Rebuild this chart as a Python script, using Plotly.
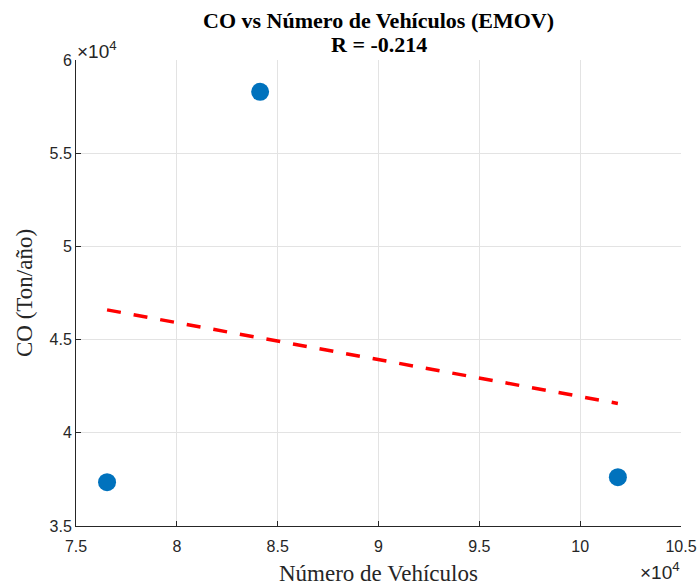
import numpy as np
import plotly.graph_objects as go

# Data
vehiculos = [76540, 84130, 101870]
co_ton = [37350, 58290, 37620]

x_tick_vals = [75000, 80000, 85000, 90000, 95000, 100000, 105000]
x_tick_text = ["7.5", "8", "8.5", "9", "9.5", "10", "10.5"]
y_tick_vals = [35000, 40000, 45000, 50000, 55000, 60000]
y_tick_text = ["3.5", "4", "4.5", "5", "5.5", "6"]

title_lines = ["CO vs Número de Vehículos (EMOV)", "R = -0.214"]
x_label = "Número de Vehículos"
y_label = "CO (Ton/año)"

# linear fit
xa = np.array(vehiculos, dtype=float)
ya = np.array(co_ton, dtype=float)
slope, intercept = np.polyfit(xa, ya, 1)
fit_x = [xa.min(), xa.max()]
fit_y = [slope * v + intercept for v in fit_x]

W, H = 700, 587
L, R, T, B = 76, 19, 60, 61
axis_col = "#262626"
grid_col = "#e3e3e3"


def py(pix):
    """paper y from pixel row"""
    return 1 - (pix - T) / (H - T - B)


def px(pix):
    return (pix - L) / (W - L - R)


fig = go.Figure()
fig.add_trace(go.Scatter(
    x=vehiculos, y=co_ton, mode="markers",
    marker=dict(color="#0072BD", size=18, line=dict(width=0)),
    showlegend=False, cliponaxis=False,
))
fig.add_trace(go.Scatter(
    x=fit_x, y=fit_y, mode="lines",
    line=dict(color="#FF0000", width=3.5, dash="14px,13px"),
    showlegend=False,
))

tfont = dict(family="Liberation Serif", size=22, color="black")
fig.update_layout(
    width=W, height=H,
    margin=dict(l=L, r=R, t=T, b=B, autoexpand=False),
    paper_bgcolor="white", plot_bgcolor="white",
    xaxis=dict(
        range=[75000, 105000], automargin=False,
        tickvals=x_tick_vals, ticktext=x_tick_text,
        showgrid=True, gridcolor=grid_col, gridwidth=1,
        showline=True, linecolor=axis_col, linewidth=1,
        ticks="inside", ticklen=5, tickcolor=axis_col,
        ticklabelstandoff=6,
        zeroline=False,
        tickfont=dict(family="Liberation Sans", size=16, color=axis_col),
        mirror=False,
    ),
    yaxis=dict(
        range=[35000, 60000], automargin=False,
        tickvals=y_tick_vals, ticktext=y_tick_text,
        showgrid=True, gridcolor=grid_col, gridwidth=1,
        showline=True, linecolor=axis_col, linewidth=1,
        ticks="inside", ticklen=5, tickcolor=axis_col,
        zeroline=False,
        tickfont=dict(family="Liberation Sans", size=16, color=axis_col),
        mirror=False,
    ),
    annotations=[
        dict(text="<b>" + title_lines[0] + "</b>", xref="paper", yref="paper",
             x=0.5, y=py(20), xanchor="center", yanchor="middle",
             showarrow=False, font=tfont),
        dict(text="<b>" + title_lines[1] + "</b>", xref="paper", yref="paper",
             x=0.5, y=py(45), xanchor="center", yanchor="middle",
             showarrow=False, font=tfont),
        dict(text=x_label, xref="paper", yref="paper",
             x=0.5, y=py(573), xanchor="center", yanchor="middle",
             showarrow=False,
             font=dict(family="Liberation Serif", size=23, color=axis_col)),
        dict(text=y_label, xref="paper", yref="paper",
             x=px(24), y=0.5, xanchor="center", yanchor="middle",
             textangle=-90, showarrow=False,
             font=dict(family="Liberation Serif", size=23, color=axis_col)),
        dict(text="×10<sup>4</sup>", xref="paper", yref="paper",
             x=px(75), y=py(50), xanchor="left", yanchor="middle",
             showarrow=False,
             font=dict(family="Liberation Sans", size=19, color=axis_col)),
        dict(text="×10<sup>4</sup>", xref="paper", yref="paper",
             x=px(682), y=py(571), xanchor="right", yanchor="middle",
             showarrow=False,
             font=dict(family="Liberation Sans", size=19, color=axis_col)),
    ],
)

fig.write_html("out.html")
